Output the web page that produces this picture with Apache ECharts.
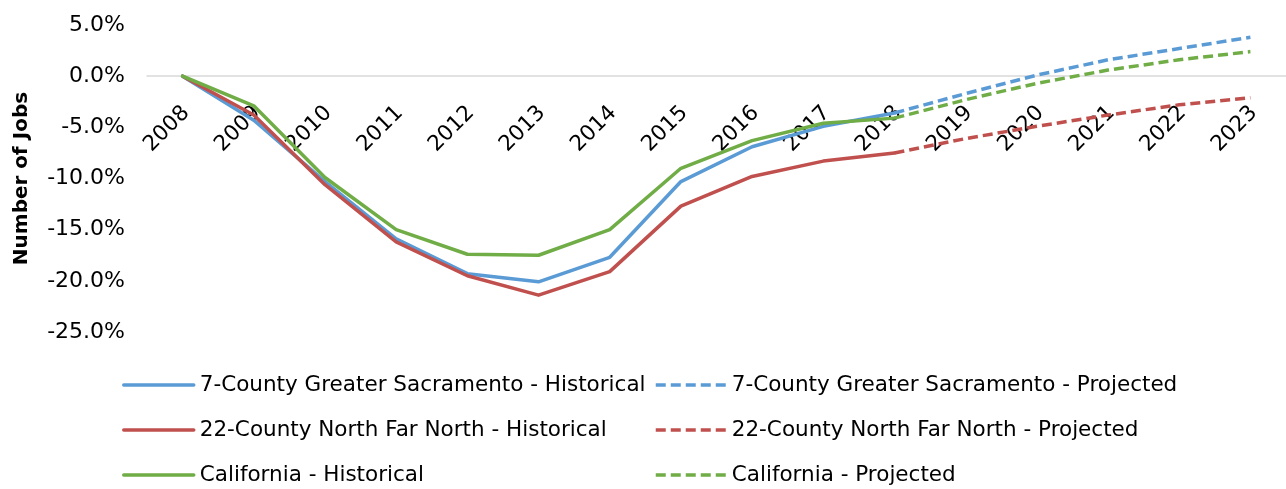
<!DOCTYPE html>
<html>
<head>
<meta charset="utf-8">
<script src="https://cdn.jsdelivr.net/npm/echarts@6/dist/echarts.min.js"></script>
<style>
html, body { margin: 0; padding: 0; background: #fff; }
#chart { width: 1286px; height: 489px; }
</style>
</head>
<body>
<div id="chart"></div>
<script>
var years = ['2008', '2009', '2010', '2011', '2012', '2013', '2014', '2015',
    '2016', '2017', '2018', '2019', '2020', '2021', '2022', '2023'];

// historical values 2008-2018 (% change since 2008)
var sacHist = [0, -4.3, -10.3, -15.9, -19.3, -20.1, -17.7, -10.3, -6.9, -4.9, -3.6];
var nfnHist = [0, -3.8, -10.6, -16.2, -19.5, -21.4, -19.1, -12.7, -9.8, -8.3, -7.5];
var caHist = [0, -2.9, -9.9, -15.0, -17.4, -17.5, -15.0, -9.0, -6.3, -4.6, -4.1];

// projected values 2018-2023
var sacProj = [-3.6, -1.7, 0.1, 1.6, 2.7, 3.8];
var nfnProj = [-7.5, -6.1, -4.9, -3.8, -2.8, -2.1];
var caProj = [-4.1, -2.3, -0.7, 0.6, 1.6, 2.4];

var yTicks = { min: -25, max: 5, step: 5 };

var names = [
    '7-County Greater Sacramento - Historical',
    '22-County North Far North - Historical',
    'California - Historical',
    '7-County Greater Sacramento - Projected',
    '22-County North Far North - Projected',
    'California - Projected'
];
var colors = ['#5B9BD5', '#C0504D', '#70AD47'];

var FONT = 'DejaVu Sans';
var GRID_TOP = 25, GRID_BOTTOM = 157, H = 489;

function histData(arr) {
    return years.map(function (y, i) { return i < arr.length ? arr[i] : null; });
}
function projData(arr) {
    var start = years.length - arr.length;
    return years.map(function (y, i) { return i >= start ? arr[i - start] : null; });
}

function makeSeries(name, data, color, dashed) {
    return {
        name: name,
        type: 'line',
        data: data,
        showSymbol: false,
        symbol: 'none',
        connectNulls: false,
        color: color,
        lineStyle: {
            color: color,
            width: 3.5,
            type: dashed ? [10, 5] : 'solid',
            cap: dashed ? 'butt' : 'round',
            join: 'round'
        },
        emphasis: { disabled: true }
    };
}

function makeLegend(name, left, centerY) {
    return {
        data: [name],
        left: left,
        top: centerY - 11,
        padding: 0,
        itemWidth: 70,
        itemHeight: 22,
        itemGap: 0,
        selectedMode: false,
        itemStyle: { opacity: 0 },
        lineStyle: { width: 3.5 },
        textStyle: { fontFamily: FONT, fontSize: 21.5, color: '#000', padding: [0, 0, 0, 1] }
    };
}

// move the category axis up to the 0% line
var plotH = H - GRID_TOP - GRID_BOTTOM;
var zeroOffset = plotH * (0 - yTicks.min) / (yTicks.max - yTicks.min);

var chart = echarts.init(document.getElementById('chart'), null, { renderer: 'canvas' });

var option = {
    animation: false,
    backgroundColor: '#fff',
    grid: { left: 147, right: 0, top: GRID_TOP, bottom: GRID_BOTTOM, containLabel: false },
    legend: [
        makeLegend(names[0], 122, 385),
        makeLegend(names[1], 122, 430),
        makeLegend(names[2], 122, 475),
        makeLegend(names[3], 654, 385),
        makeLegend(names[4], 654, 430),
        makeLegend(names[5], 654, 475)
    ],
    xAxis: {
        type: 'category',
        data: years,
        boundaryGap: true,
        offset: -zeroOffset,
        axisLine: { onZero: false, lineStyle: { color: '#d9d9d9', width: 1.5 } },
        axisTick: { show: false },
        splitLine: { show: false },
        axisLabel: {
            interval: 0,
            rotate: 45,
            margin: 30,
            verticalAlign: 'top',
            lineHeight: 10,
            fontFamily: FONT,
            fontSize: 21.5,
            color: '#000'
        }
    },
    yAxis: {
        type: 'value',
        min: yTicks.min,
        max: yTicks.max,
        interval: yTicks.step,
        name: 'Number of Jobs',
        nameLocation: 'middle',
        nameGap: 115,
        nameTextStyle: { fontFamily: FONT, fontSize: 20, fontWeight: 'bold', color: '#000' },
        axisLine: { show: false },
        axisTick: { show: false },
        splitLine: { show: false },
        axisLabel: {
            margin: 22,
            fontFamily: FONT,
            fontSize: 22,
            color: '#000',
            formatter: function (v) { return v.toFixed(1) + '%'; }
        }
    },
    series: [
        makeSeries(names[0], histData(sacHist), colors[0], false),
        makeSeries(names[1], histData(nfnHist), colors[1], false),
        makeSeries(names[2], histData(caHist), colors[2], false),
        makeSeries(names[3], projData(sacProj), colors[0], true),
        makeSeries(names[4], projData(nfnProj), colors[1], true),
        makeSeries(names[5], projData(caProj), colors[2], true)
    ]
};

chart.setOption(option);
</script>
</body>
</html>
